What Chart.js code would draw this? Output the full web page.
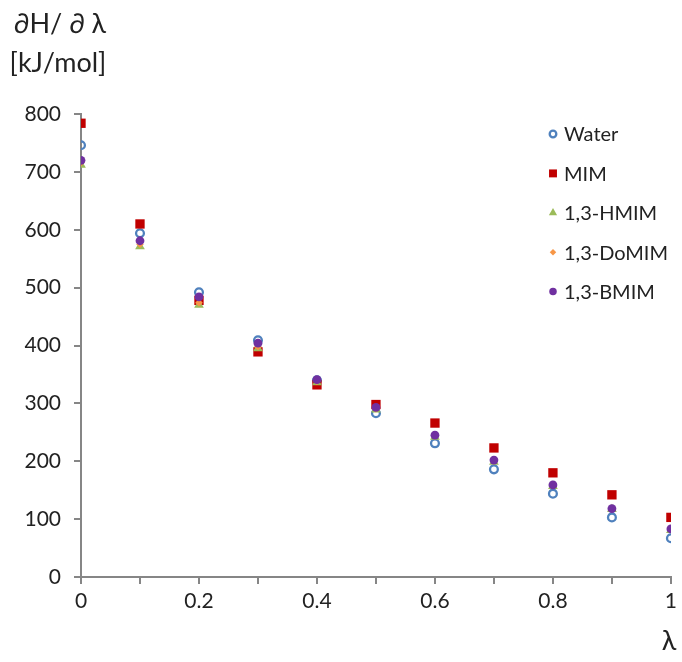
<!DOCTYPE html>
<html>
<head>
<meta charset="utf-8">
<script src="https://cdn.jsdelivr.net/npm/chart.js@4/dist/chart.umd.min.js"></script>
<style>
  html, body { margin: 0; padding: 0; background: #fff; }
  #wrap { width: 682px; height: 662px; position: relative; }
</style>
</head>
<body>
<div id="wrap"><canvas id="c"></canvas></div>
<script>
// lambda values (x) and dH/dlambda per solvent (kJ/mol)
const lambdas = [0, 0.1, 0.2, 0.3, 0.4, 0.5, 0.6, 0.7, 0.8, 0.9, 1];
const water = [746, 594, 492, 409, 340, 283, 231, 186, 144, 103, 67];
const mim   = [784, 610, 478, 389, 332, 298, 266, 223, 180, 142, 103];
const hmim  = [712, 571, 470, 395, 336, 289, 242, 199, 157, 117, 81];
const domim = [716, 575, 474, 398, 338, 291, 244, 201, 158, 118, 82];
const bmim  = [720, 581, 484, 404, 341, 293, 245, 202, 159, 118, 83];
const seriesNames = ['Water', 'MIM', '1,3-HMIM', '1,3-DoMIM', '1,3-BMIM'];
const yTicks = [0, 100, 200, 300, 400, 500, 600, 700, 800];

const FONT = 'Lato, "Open Sans", sans-serif';
const AXIS = '#868686';

function pts(ys) {
    return lambdas.map((x, i) => ({ x: x, y: ys[i] }));
}

// later series sit on top, like the original spreadsheet chart
const styles = [
    { pointStyle: 'circle',  radius: 3.9, borderColor: '#4F81BD', backgroundColor: 'rgba(255,255,255,0)', borderWidth: 2.3, order: 5 },
    { pointStyle: 'rect',    radius: 6.6, borderColor: '#C00000', backgroundColor: '#C00000', borderWidth: 0, order: 4 },
    { pointStyle: 'triangle',radius: 5.6, borderColor: '#9BBB59', backgroundColor: '#9BBB59', borderWidth: 0, order: 3 },
    { pointStyle: 'rectRot', radius: 3.8, borderColor: '#F79646', backgroundColor: '#F79646', borderWidth: 0, order: 2 },
    { pointStyle: 'circle',  radius: 4.4, borderColor: '#7030A0', backgroundColor: '#7030A0', borderWidth: 0, order: 1 }
];
const values = [water, mim, hmim, domim, bmim];

const datasets = seriesNames.map((name, i) => ({
    label: name,
    data: pts(values[i]),
    showLine: false,
    pointStyle: styles[i].pointStyle,
    pointRadius: styles[i].radius,
    pointHoverRadius: styles[i].radius,
    pointBorderColor: styles[i].borderColor,
    pointBackgroundColor: styles[i].backgroundColor,
    pointBorderWidth: styles[i].borderWidth,
    order: styles[i].order
}));

// axis titles and the legend are drawn by hand, the legend sits inside the plot
const extras = {
    id: 'extras',
    afterDraw(chart) {
        const ctx = chart.ctx;
        ctx.save();
        ctx.fillStyle = '#222';
        ctx.textBaseline = 'middle';
        ctx.font = '27px ' + FONT;
        ctx.textAlign = 'center';
        ctx.fillText('\u2202H/ \u2202 \u03bb', 60, 24);
        ctx.fillText('[kJ/mol]', 58, 63);
        ctx.fillText('\u03bb', 669, 641);

        // legend
        ctx.font = '20px ' + FONT;
        ctx.textAlign = 'left';
        const lx = 553, ly0 = 134, step = 39.4;
        styles.forEach((s, i) => {
            const y = ly0 + i * step;
            ctx.fillStyle = s.backgroundColor;
            ctx.strokeStyle = s.borderColor;
            ctx.lineWidth = s.borderWidth;
            Chart.helpers.drawPoint(ctx, {
                pointStyle: s.pointStyle,
                radius: s.radius * 0.85,
                rotation: 0,
                borderWidth: s.borderWidth
            }, lx, y);
            ctx.fillStyle = '#222';
            ctx.fillText(seriesNames[i], 564, y + 1);
        });
        ctx.restore();
    }
};

new Chart(document.getElementById('c'), {
    type: 'scatter',
    data: { datasets: datasets },
    options: {
        responsive: true,
        maintainAspectRatio: false,
        animation: false,
        layout: { padding: { top: 114, right: 10, left: 0, bottom: 0 } },
        plugins: {
            legend: { display: false },
            tooltip: { enabled: false }
        },
        scales: {
            x: {
                type: 'linear',
                min: 0,
                max: 1,
                ticks: {
                    stepSize: 0.1,
                    color: '#222',
                    font: { family: FONT, size: 21 },
                    padding: 5,
                    maxRotation: 0,
                    autoSkip: false,
                    callback: (v) => {
                        const k = Math.round(v * 10);
                        return k % 2 === 0 ? String(k / 10) : '';
                    }
                },
                grid: { drawOnChartArea: false, drawTicks: true, tickLength: 7, color: AXIS, lineWidth: 2 },
                border: { color: AXIS, width: 2 },
                afterFit(scale) { scale.height = 85; }
            },
            y: {
                min: 0,
                max: 800,
                afterBuildTicks(scale) { scale.ticks = yTicks.map(v => ({ value: v })); },
                ticks: {
                    color: '#222',
                    font: { family: FONT, size: 21 },
                    padding: 13
                },
                grid: { drawOnChartArea: false, drawTicks: true, tickLength: 7, color: AXIS, lineWidth: 2 },
                border: { color: AXIS, width: 2 },
                afterFit(scale) { scale.width = 81; }
            }
        }
    },
    plugins: [extras]
});
</script>
</body>
</html>
